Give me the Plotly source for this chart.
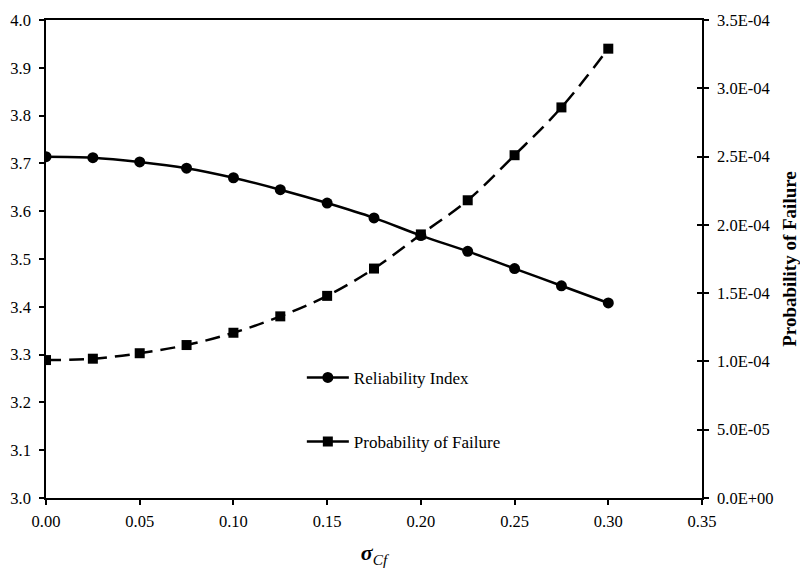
import plotly.graph_objects as go

sigma_cf = [0.0, 0.025, 0.05, 0.075, 0.10, 0.125, 0.15, 0.175, 0.20, 0.225, 0.25, 0.275, 0.30]
reliability_index = [3.714, 3.712, 3.703, 3.690, 3.670, 3.645, 3.617, 3.586, 3.549, 3.516, 3.480, 3.444, 3.408]
prob_failure = [1.01e-4, 1.02e-4, 1.06e-4, 1.12e-4, 1.21e-4, 1.33e-4, 1.48e-4, 1.68e-4, 1.93e-4, 2.18e-4, 2.51e-4, 2.86e-4, 3.29e-4]

x_ticks = [0.0, 0.05, 0.10, 0.15, 0.20, 0.25, 0.30, 0.35]
y_ticks = [3.0, 3.1, 3.2, 3.3, 3.4, 3.5, 3.6, 3.7, 3.8, 3.9, 4.0]
y2_ticks = [0.0, 5e-5, 1e-4, 1.5e-4, 2e-4, 2.5e-4, 3e-4, 3.5e-4]
y2_labels = ["0.0E+00", "5.0E-05", "1.0E-04", "1.5E-04", "2.0E-04", "2.5E-04", "3.0E-04", "3.5E-04"]

FONT = "'Liberation Serif', 'Times New Roman', serif"

fig = go.Figure()
fig.add_trace(go.Scatter(
    x=sigma_cf, y=reliability_index, name="Reliability Index",
    mode="lines+markers", line=dict(color="black", width=2.5, shape="spline"),
    marker=dict(symbol="circle", size=11, color="black"),
    legendgroup="a", yaxis="y"))
fig.add_trace(go.Scatter(
    x=sigma_cf, y=prob_failure, name="Probability of Failure",
    mode="lines+markers", line=dict(color="black", width=2.5, dash="15px,8px", shape="spline"),
    marker=dict(symbol="square", size=10, color="black"),
    legendgroup="b", yaxis="y2", showlegend=False))
# legend entry for the failure series (drawn solid, as in the reference legend)
fig.add_trace(go.Scatter(
    x=[None], y=[None], name="Probability of Failure",
    mode="lines+markers", line=dict(color="black", width=2.5),
    marker=dict(symbol="square", size=10, color="black"),
    legendgroup="b", yaxis="y2", hoverinfo="skip"))

fig.update_layout(
    width=800, height=568,
    margin=dict(l=46, r=98, t=20, b=70),
    paper_bgcolor="white", plot_bgcolor="white",
    font=dict(family=FONT, size=16.5, color="black"),
    showlegend=True,
    legend=dict(x=0.39, y=0.289, xanchor="left", yanchor="top",
                bgcolor="rgba(0,0,0,0)", tracegroupgap=39, itemwidth=42,
                font=dict(family=FONT, size=17), traceorder="grouped"),
    xaxis=dict(range=[0, 0.35], tickvals=x_ticks, tickformat=".2f",
               showline=True, linecolor="black", linewidth=1.5, mirror=True,
               ticks="outside", ticklen=5, tickcolor="black", tickwidth=1.5,
               showgrid=False, zeroline=False, automargin=False,
               tickfont=dict(family=FONT, size=16.5), ticklabelstandoff=2,
               title=dict(text="<b><i>σ</i></b><i><sub>Cf</sub></i>",
                          font=dict(family=FONT, size=22), standoff=16)),
    yaxis=dict(range=[3.0, 4.0], tickvals=y_ticks, tickformat=".1f",
               showline=True, linecolor="black", linewidth=1.5,
               ticks="outside", ticklen=5, tickcolor="black", tickwidth=1.5,
               showgrid=False, zeroline=False, automargin=False,
               tickfont=dict(family=FONT, size=16.5), ticklabelstandoff=5),
    yaxis2=dict(range=[0, 3.5e-4], tickvals=y2_ticks, ticktext=y2_labels,
                overlaying="y", side="right", anchor="x",
                showline=True, linecolor="black", linewidth=1.5,
                ticks="outside", ticklen=5, tickcolor="black", tickwidth=1.5,
                showgrid=False, zeroline=False, automargin=False,
                tickfont=dict(family=FONT, size=16.5), ticklabelstandoff=5,
                title=dict(text="<b>Probability of Failure</b>",
                           font=dict(family=FONT, size=19), standoff=14)),
    yaxis3=dict(range=[0, 3.5e-4], tickvals=y2_ticks, showticklabels=False,
                overlaying="y", side="right", anchor="x",
                showline=False, ticks="inside", ticklen=5, tickcolor="black",
                tickwidth=1.5, showgrid=False, zeroline=False, automargin=False),
)
fig.add_trace(go.Scatter(x=[None], y=[None], yaxis="y3", showlegend=False, hoverinfo="skip"))

fig.write_html("out.html")
